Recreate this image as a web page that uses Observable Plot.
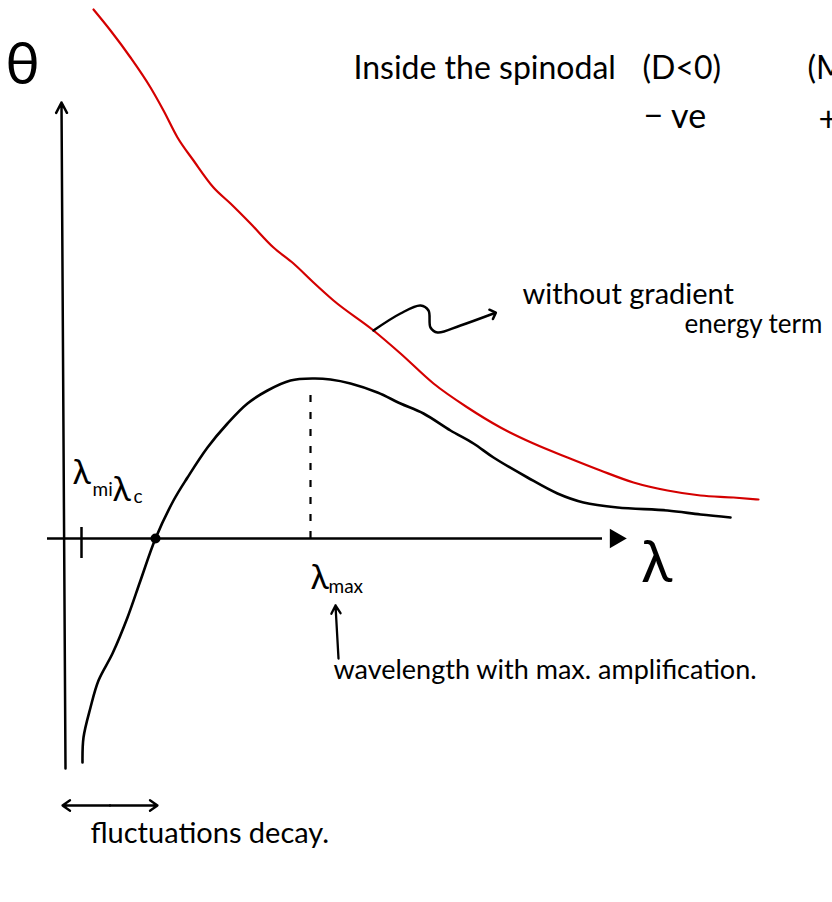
<!DOCTYPE html>
<html>
<head>
<meta charset="utf-8">
<script src="https://cdn.jsdelivr.net/npm/d3@7"></script>
<script src="https://cdn.jsdelivr.net/npm/@observablehq/plot@0.6"></script>
<style>
  html, body { margin: 0; padding: 0; background: #fff; overflow: hidden; }
  #chart svg { overflow: hidden; }
</style>
</head>
<body>
<div id="chart"></div>
<script>
// Amplification factor θ against wavelength λ for fluctuations inside the spinodal.
// Points are [λ, θ] in sketch units.

// With the gradient energy term: negative below λc, peak at λmax, tailing off.
const withGradient = [
  [2.0, -22.4], [2.1, -19.9], [2.8, -16.9], [3.6, -14.2], [5.0, -11.5],
  [6.5, -7.9], [7.8, -4.2], [9.3, 0], [11.1, 3.8], [12.5, 6.1],
  [14.5, 9.1], [16.5, 11.5], [18.5, 13.5], [20.5, 14.8], [22.8, 15.8],
  [25.1, 16.0], [26.8, 15.9], [28.8, 15.5], [31.5, 14.6], [33.8, 13.5],
  [36.1, 12.5], [38.8, 10.8], [41.1, 9.5], [43.1, 8.1], [46.5, 6.1],
  [49.5, 4.5], [52.1, 3.6], [55.5, 3.1], [60.5, 2.8], [63.8, 2.4], [66.8, 2.1]
];

// Without the gradient energy term: monotonically falling curve.
const withoutGradient = [
  [3.1, 52.9], [4.8, 50.8], [6.8, 48.1], [8.8, 45.1], [10.1, 42.8],
  [11.5, 40.1], [13.1, 37.8], [15.1, 35.1], [16.8, 33.5], [18.8, 31.5],
  [21.1, 29.1], [23.1, 27.5], [25.1, 25.6], [27.1, 23.8], [31.1, 20.8],
  [33.8, 18.5], [37.1, 15.5], [40.5, 13.1], [43.8, 11.1], [47.1, 9.5],
  [50.5, 8.1], [53.8, 6.8], [57.1, 5.6], [60.5, 4.8], [63.8, 4.3],
  [67.1, 4.1], [69.6, 3.9]
];

// Characteristic wavelengths
const lambdaMin = [1.9];
const lambdaC = [[9.3, 0]];
const lambdaMax = [24.8];
const thetaPeak = 15.6;

// Axis strokes (λ1, θ1) → (λ2, θ2)
const thetaAxis = [{l1: 0.3, t1: -23.0, l2: -0.1, t2: 43.6}];
const lambdaAxis = [{l1: -1.5, t1: 0, l2: 55.3, t2: 0}];

// Pointer from the red curve to its note
const pointer = [
  [31.1, 20.8], [33.8, 22.5], [35.8, 23.3], [36.6, 22.8], [36.8, 21.1],
  [37.5, 20.6], [39.8, 21.3], [43.1, 22.5]
];
// Arrow up to λmax, and the two-headed span of decaying fluctuations
const maxArrow = [{l1: 27.6, t1: -12.0, l2: 27.3, t2: -6.7}];
const decaySpan = [
  {l1: 4.75, t1: -26.7, l2: 0.0, t2: -26.7},
  {l1: 4.75, t1: -26.7, l2: 9.5, t2: -26.7}
];

// Text
const heading = [
  {text: "Inside the spinodal", l: 29.1, t: 46.0},
  {text: "(D<0)", l: 58.0, t: 46.0},
  {text: "(M>0)", l: 74.5, t: 46.0}
];
const signs = [
  {text: "− ve", l: 58.1, t: 41.1},
  {text: "+ve", l: 75.6, t: 40.8}
];
const notes = [
  {text: "without gradient", l: 46.0, t: 23.5},
  {text: "energy term", l: 62.2, t: 20.6}
];
const captions = [
  {text: "wavelength with max. amplification.", l: 27.1, t: -14.0},
  {text: "fluctuations decay.", l: 2.8, t: -30.4}
];
const axisLabels = [
  {text: "θ", l: -4.0, t: 47.3},
  {text: "λ", l: 59.4, t: -2.5}
];
const lambdaSymbols = [
  {text: "λ", l: 1.0, t: 5.5},
  {text: "λ", l: 5.0, t: 3.8},
  {text: "λ", l: 24.8, t: -5.0}
];
const lambdaSubscripts = [
  {text: "mi", l: 3.0, t: 4.3},
  {text: "c", l: 7.1, t: 3.6},
  {text: "max", l: 26.6, t: -5.4}
];

const ink = "#000";
const red = "#d40000";
const font = "Lato, 'DejaVu Sans', sans-serif";

const chart = Plot.plot({
  width: 832,
  height: 902,
  margin: 0,
  x: {domain: [-6.2, 77.0], axis: null},
  y: {domain: [-36.4, 53.8], axis: null},
  style: {background: "#fff", fontFamily: font, color: ink},
  marks: [
    // axes
    Plot.arrow(thetaAxis, {x1: "l1", y1: "t1", x2: "l2", y2: "t2", stroke: ink, strokeWidth: 2.5, headAngle: 55, headLength: 7}),
    Plot.ruleY([0], {x1: -1.5, x2: 54.0, stroke: ink, strokeWidth: 2.5}),
    Plot.dot(lambdaAxis, {x: "l2", y: "t2", symbol: "triangle", rotate: 90, r: 6, fill: ink, stroke: ink, strokeWidth: 2}),

    // curves
    Plot.line(withoutGradient, {curve: "monotone-x", stroke: red, strokeWidth: 2.2}),
    Plot.line(withGradient, {curve: "catmull-rom", stroke: ink, strokeWidth: 2.6}),

    // λmin tick, λc crossing and λmax drop line
    Plot.ruleX(lambdaMin, {y1: -2.0, y2: 1.1, stroke: ink, strokeWidth: 2.5}),
    Plot.dot(lambdaC, {r: 5, fill: ink}),
    Plot.ruleX(lambdaMax, {y1: 0, y2: thetaPeak - 0.3, stroke: ink, strokeWidth: 2.2, strokeDasharray: "7,10"}),

    // pointers
    Plot.line(pointer, {curve: "catmull-rom", stroke: ink, strokeWidth: 2.5, markerEnd: "arrow"}),
    Plot.arrow(maxArrow, {x1: "l1", y1: "t1", x2: "l2", y2: "t2", stroke: ink, strokeWidth: 2.3, headAngle: 60, headLength: 6}),
    Plot.arrow(decaySpan, {x1: "l1", y1: "t1", x2: "l2", y2: "t2", stroke: ink, strokeWidth: 2.3, headAngle: 70, headLength: 6}),

    // text
    Plot.text(heading, {x: "l", y: "t", text: "text", textAnchor: "start", lineAnchor: "bottom", fontSize: 32, fill: ink}),
    Plot.text(signs, {x: "l", y: "t", text: "text", textAnchor: "start", lineAnchor: "bottom", fontSize: 34, fill: ink}),
    Plot.text(notes.slice(0, 1), {x: "l", y: "t", text: "text", textAnchor: "start", lineAnchor: "bottom", fontSize: 29, fill: ink}),
    Plot.text(notes.slice(1), {x: "l", y: "t", text: "text", textAnchor: "start", lineAnchor: "bottom", fontSize: 26, fill: ink}),
    Plot.text(captions.slice(0, 1), {x: "l", y: "t", text: "text", textAnchor: "start", lineAnchor: "bottom", fontSize: 27, fill: ink}),
    Plot.text(captions.slice(1), {x: "l", y: "t", text: "text", textAnchor: "start", lineAnchor: "bottom", fontSize: 29, fill: ink}),
    Plot.text(axisLabels, {x: "l", y: "t", text: "text", textAnchor: "middle", lineAnchor: "middle", fontSize: 58, fill: ink}),
    Plot.text(lambdaSymbols, {x: "l", y: "t", text: "text", textAnchor: "start", lineAnchor: "bottom", fontSize: 34, fill: ink}),
    Plot.text(lambdaSubscripts, {x: "l", y: "t", text: "text", textAnchor: "start", lineAnchor: "bottom", fontSize: 19, fill: ink})
  ]
});

document.getElementById("chart").appendChild(chart);
</script>
</body>
</html>
